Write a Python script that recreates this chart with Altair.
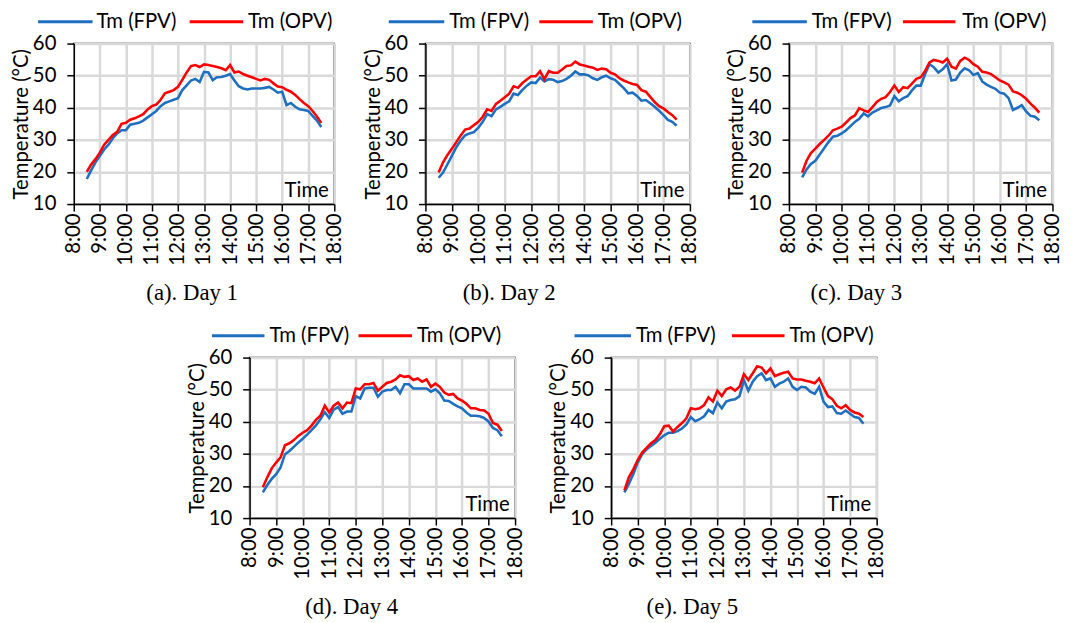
import altair as alt
import pandas as pd

# 10-minute readings from 8:30 to 17:30
times = [f"{h}:{m:02d}" for h in range(8, 18) for m in range(0, 60, 10)
         if (h, m) >= (8, 30) and (h, m) <= (17, 30)]

day1_fpv = [17.8, 20.5, 23.0, 25.0, 27.0, 28.5, 30.5, 32.0, 33.0, 33.0, 34.7, 35.0, 35.3, 36.0, 37.0,
            38.0, 39.0, 40.5, 41.5, 42.0, 42.5, 43.0, 45.5, 47.0, 48.5, 49.0, 48.0, 51.2, 51.0, 48.6,
            49.5, 49.6, 50.0, 50.5, 48.5, 46.7, 46.0, 45.7, 46.0, 46.0, 46.0, 46.2, 46.5, 45.7, 44.7,
            45.0, 40.8, 41.5, 40.3, 39.5, 39.3, 39.0, 37.5, 36.0, 34.0]
day1_opv = [20.0, 22.3, 24.0, 26.0, 28.5, 30.0, 31.5, 32.5, 35.0, 35.3, 36.3, 36.7, 37.3, 38.0, 39.5,
            40.5, 41.0, 42.5, 44.5, 45.0, 45.5, 46.5, 48.7, 51.0, 53.0, 53.3, 52.7, 53.5, 53.3, 53.0,
            52.7, 52.3, 51.7, 53.3, 51.0, 51.3, 50.5, 50.0, 49.5, 49.0, 48.5, 49.0, 48.7, 47.6, 46.6,
            46.4, 45.6, 45.0, 44.0, 42.7, 41.5, 40.5, 39.0, 37.3, 35.3]

day2_fpv = [18.2, 19.8, 22.4, 25.0, 27.7, 29.8, 31.4, 32.0, 32.4, 33.8, 35.6, 38.0, 37.4, 39.5, 40.3,
            41.2, 42.0, 44.4, 44.0, 45.6, 46.9, 47.9, 47.7, 49.4, 48.2, 48.9, 48.7, 48.0, 48.3, 49.0,
            50.0, 51.3, 50.4, 50.4, 50.1, 49.2, 48.7, 49.5, 50.0, 49.2, 48.7, 47.4, 46.1, 44.5, 44.7,
            43.7, 42.2, 42.4, 41.4, 40.3, 39.1, 37.7, 36.2, 35.6, 34.4]
day2_opv = [19.8, 23.0, 25.3, 27.2, 29.3, 31.4, 33.2, 33.5, 34.6, 35.6, 37.2, 39.5, 39.0, 41.2, 42.2,
            43.3, 44.4, 46.7, 46.2, 47.7, 48.8, 49.8, 49.8, 51.4, 48.9, 51.4, 50.9, 50.9, 51.9, 53.0,
            53.2, 54.4, 53.5, 53.2, 52.8, 52.5, 51.8, 52.2, 52.0, 50.9, 50.4, 49.2, 48.5, 47.9, 47.4,
            47.1, 45.5, 45.0, 43.4, 41.8, 40.5, 39.8, 38.7, 37.7, 36.3]

day3_fpv = [18.3, 20.8, 22.5, 23.5, 25.4, 27.4, 29.3, 31.0, 31.3, 32.0, 33.0, 34.3, 35.6, 36.6, 38.2,
            37.3, 38.5, 39.2, 39.9, 40.2, 40.7, 43.6, 42.0, 43.0, 43.6, 45.4, 46.9, 46.9, 50.5, 53.6,
            52.6, 51.0, 52.0, 53.6, 48.5, 48.8, 51.0, 52.3, 51.7, 50.2, 50.8, 48.2, 47.2, 46.5, 45.9,
            44.7, 44.4, 43.0, 39.3, 40.0, 40.8, 38.9, 37.5, 37.2, 36.1]
day3_opv = [19.8, 23.5, 25.9, 27.3, 28.7, 30.0, 31.3, 33.0, 33.5, 34.1, 35.4, 36.8, 37.6, 39.9, 39.2,
            38.7, 40.2, 41.8, 42.8, 43.3, 44.9, 46.9, 44.9, 46.4, 46.1, 47.5, 49.0, 49.5, 51.5, 54.1,
            54.9, 54.6, 54.1, 55.3, 52.8, 52.2, 54.6, 55.6, 54.9, 53.6, 52.8, 51.2, 51.0, 50.5, 49.5,
            48.5, 47.9, 47.2, 45.1, 44.7, 43.9, 42.8, 41.3, 40.0, 38.5]

day4_fpv = [18.0, 20.3, 22.2, 23.7, 25.8, 29.9, 30.9, 32.2, 33.5, 34.7, 36.0, 37.4, 38.9, 40.8, 43.0,
            41.2, 43.8, 44.6, 42.5, 43.2, 43.2, 48.0, 47.3, 50.4, 50.6, 50.6, 47.8, 49.4, 49.9, 49.9,
            50.9, 48.9, 51.7, 51.7, 50.4, 50.4, 50.4, 50.4, 49.4, 50.1, 48.9, 46.6, 46.5, 45.6, 44.8,
            44.2, 42.9, 41.9, 41.9, 41.7, 41.2, 40.1, 38.1, 37.4, 35.5]
day4_opv = [19.6, 22.7, 25.5, 27.3, 28.9, 32.7, 33.3, 34.3, 35.6, 36.6, 37.4, 38.8, 40.6, 41.9, 45.0,
            42.9, 45.0, 46.0, 44.2, 46.0, 45.8, 50.4, 50.1, 51.7, 51.7, 52.1, 49.7, 50.9, 52.1, 52.5,
            53.2, 54.5, 54.0, 54.2, 53.0, 53.5, 52.5, 53.2, 50.9, 51.9, 50.9, 49.1, 48.4, 48.7, 47.3,
            46.6, 45.6, 44.2, 44.2, 43.7, 43.5, 42.5, 39.6, 39.1, 37.1]

day5_fpv = [18.0, 20.6, 23.7, 27.3, 29.9, 31.4, 32.5, 33.5, 34.7, 35.8, 36.6, 36.6, 37.1, 37.9, 39.2,
            41.5, 40.2, 40.8, 41.7, 43.7, 42.7, 46.0, 44.2, 46.3, 46.8, 47.0, 48.0, 53.0, 49.7, 52.5,
            54.2, 55.1, 53.0, 53.5, 50.9, 51.9, 52.5, 53.5, 50.9, 49.9, 50.9, 50.7, 49.4, 48.7, 50.9,
            46.3, 44.6, 44.8, 42.7, 42.5, 43.5, 42.5, 41.5, 41.2, 39.4]
day5_opv = [18.6, 22.7, 25.2, 28.1, 30.4, 31.9, 33.3, 34.3, 36.1, 38.6, 38.8, 37.0, 38.4, 39.6, 41.1,
            44.2, 43.9, 44.2, 45.2, 47.6, 46.3, 49.7, 48.0, 50.1, 50.7, 49.7, 50.9, 54.8, 53.0, 55.1,
            57.3, 56.9, 55.1, 56.6, 54.2, 54.8, 55.3, 55.6, 53.5, 53.2, 53.2, 52.8, 52.5, 52.0, 53.5,
            50.7, 48.0, 47.0, 45.0, 44.2, 45.2, 43.7, 42.9, 42.5, 41.5]

series_names = ["Tm (FPV)", "Tm (OPV)"]
series_colors = ["#1f6fc1", "#ff0000"]
hour_ticks = list(range(8, 19))
temp_ticks = [10, 20, 30, 40, 50, 60]

FONT = "Lato"
FS = 20.5


def to_hours(t):
    h, m = t.split(":")
    return int(h) + int(m) / 60.0


hours = [to_hours(t) for t in times]


def legend_layers(geom):
    """Legend drawn above the plot: geom = (line1 start, line1 end, text1, line2 start, line2 end, text2)."""
    one = pd.DataFrame({"k": [0]})
    ly = -22
    layers = []
    for i in range(2):
        x0, x1, tx = geom[3 * i], geom[3 * i + 1], geom[3 * i + 2]
        layers.append(alt.Chart(one).mark_rule(strokeWidth=3, color=series_colors[i]).encode(
            x=alt.value(x0), x2=alt.value(x1), y=alt.value(ly)))
        layers.append(alt.Chart(one).mark_text(
            align="left", baseline="middle", font=FONT, fontSize=FS, color="#000").encode(
            x=alt.value(tx), y=alt.value(ly), text=alt.value(series_names[i])))
    return layers


def panel(fpv, opv, caption, width, cap_dx, geom):
    n = len(times)
    df = pd.DataFrame({
        "hour": hours + hours,
        "temp": fpv + opv,
        "series": [series_names[0]] * n + [series_names[1]] * n,
    })
    lines = alt.Chart(df).mark_line(strokeWidth=2.6).encode(
        x=alt.X("hour:Q",
                scale=alt.Scale(domain=[8, 18], nice=False, zero=False),
                axis=alt.Axis(values=hour_ticks, labelExpr="floor(datum.value) + ':00'",
                              labelAngle=270, labelPadding=2, title="Time",
                              titleX=width - 6, titleY=-8, titleAlign="right",
                              titleBaseline="alphabetic", titleAngle=0)),
        y=alt.Y("temp:Q",
                scale=alt.Scale(domain=[10, 60], nice=False, zero=False),
                axis=alt.Axis(values=temp_ticks, title="Temperature (°C)",
                              labelPadding=11, titlePadding=1)),
        color=alt.Color("series:N",
                        scale=alt.Scale(domain=series_names, range=series_colors),
                        legend=None),
    )
    return alt.layer(lines, *legend_layers(geom)).properties(
        width=width, height=162,
        title=alt.TitleParams(caption, orient="bottom", anchor="middle", frame="group",
                              font="Liberation Serif", fontSize=23, fontWeight="normal",
                              color="#000", offset=17, dx=cap_dx),
    )


pa = panel(day1_fpv, day1_opv, "(a). Day 1", 263, -12, (-36, 19, 23, 117, 171, 176))
pb = panel(day2_fpv, day2_opv, "(b). Day 2", 267, -49, (-37, 19, 24, 115, 169, 174))
pc = panel(day3_fpv, day3_opv, "(c). Day 3", 266, -65, (-37, 18, 23, 115, 168, 175))
pd_ = panel(day4_fpv, day4_opv, "(d). Day 4", 268, -31, (-38, 15, 20, 110, 164, 169))
pe = panel(day5_fpv, day5_opv, "(e). Day 5", 268, -52, (-37, 20, 25, 122, 175, 180))

top = alt.hconcat(pa, alt.hconcat(pb, pc, spacing=24), spacing=16)
bottom = alt.hconcat(pd_, pe, spacing=21)

chart = alt.vconcat(top, bottom, spacing=19, center=True).properties(
    padding={"left": 2, "top": 0, "right": 0, "bottom": 0}
).configure(
    background="white"
).configure_view(
    stroke="#000", strokeWidth=1.5
).configure_axis(
    labelFont=FONT, labelFontSize=FS, labelColor="#000",
    titleFont=FONT, titleFontSize=FS, titleFontWeight="normal", titleColor="#000",
    gridColor="#d9d9d9", gridWidth=2.5,
    domainColor="#000", domainWidth=1.5,
    tickColor="#000", tickWidth=1.5, tickSize=7,
)

chart.save("out.html", embed_options={"renderer": "svg", "actions": False})
